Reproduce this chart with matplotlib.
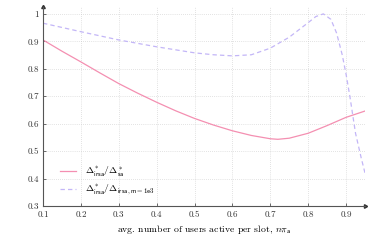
import matplotlib
matplotlib.use("Agg")
import matplotlib.pyplot as plt

plt.rcParams['font.family'] = 'serif'
plt.rcParams['font.serif'] = ['cmr10', 'DejaVu Serif']
plt.rcParams['mathtext.fontset'] = 'cm'
plt.rcParams['axes.formatter.use_mathtext'] = True

x_solid = [0.1, 0.15, 0.2, 0.25, 0.3, 0.35, 0.4, 0.45, 0.5, 0.55, 0.6, 0.65,
           0.7, 0.72, 0.75, 0.8, 0.85, 0.9, 0.95]
y_solid = [0.905, 0.864, 0.825, 0.785, 0.746, 0.711, 0.678, 0.647, 0.619, 0.595,
           0.574, 0.557, 0.545, 0.543, 0.547, 0.565, 0.593, 0.623, 0.646]

x_dash = [0.1, 0.2, 0.3, 0.4, 0.5, 0.55, 0.6, 0.65, 0.7, 0.75, 0.8, 0.82, 0.84,
          0.86, 0.875, 0.89, 0.9, 0.91, 0.925, 0.94, 0.95]
y_dash = [0.966, 0.935, 0.905, 0.880, 0.858, 0.851, 0.847, 0.851, 0.875, 0.915,
          0.968, 0.990, 1.000, 0.980, 0.930, 0.850, 0.780, 0.700, 0.565, 0.475, 0.420]

label_solid = r'$\Delta^*_{\mathsf{irsa}}/\Delta^*_{\mathsf{sa}}$'
label_dash = r'$\Delta^*_{\mathsf{irsa}}/\Delta_{\mathsf{irsa,m=1e3}}$'
xticks = [0.1, 0.2, 0.3, 0.4, 0.5, 0.6, 0.7, 0.8, 0.9]
yticks = [0.3, 0.4, 0.5, 0.6, 0.7, 0.8, 0.9, 1.0]
xtick_labels = ['0.1', '0.2', '0.3', '0.4', '0.5', '0.6', '0.7', '0.8', '0.9']
ytick_labels = ['0.3', '0.4', '0.5', '0.6', '0.7', '0.8', '0.9', '1']

fig = plt.figure(figsize=(3.74, 2.44), dpi=100)
ax = fig.add_axes([43/374, 1 - 206/244, (365 - 43)/374, (206 - 7)/244])

ax.plot(x_solid, y_solid, color='#f48fb1', lw=0.9, label=label_solid)
ax.plot(x_dash, y_dash, color='#c3b6f7', lw=0.9, dashes=(3.5, 2.5), label=label_dash)

ax.set_xlim(0.1, 0.95)
ax.set_ylim(0.3, 1.025)
ax.set_xticks(xticks)
ax.set_xticklabels(xtick_labels)
ax.set_yticks(yticks)
ax.set_yticklabels(ytick_labels)
ax.tick_params(labelsize=6.5, length=2, width=0.5, direction='in', pad=3, colors='#333333')
ax.grid(True, linestyle=(0, (1, 2)), color='#c8c8c8', lw=0.5)

for s in ['top', 'right']:
    ax.spines[s].set_visible(False)
for s in ['left', 'bottom']:
    ax.spines[s].set_color('#555555')
    ax.spines[s].set_linewidth(0.8)

ax.plot(1, 0, marker=(3, 0, -90), ms=3, color='#333333', transform=ax.transAxes, clip_on=False)
ax.plot(0, 1, marker=(3, 0, 0), ms=3, color='#333333', transform=ax.transAxes, clip_on=False)

ax.set_xlabel(r'avg. number of users active per slot, $n\pi_\mathsf{a}$', fontsize=7, labelpad=3)

leg = ax.legend(loc='lower left', bbox_to_anchor=(0.025, 0.0), frameon=False,
                fontsize=7, handlelength=1.7, handletextpad=0.9, labelspacing=0.35)

fig.savefig('out.png', dpi=100)
